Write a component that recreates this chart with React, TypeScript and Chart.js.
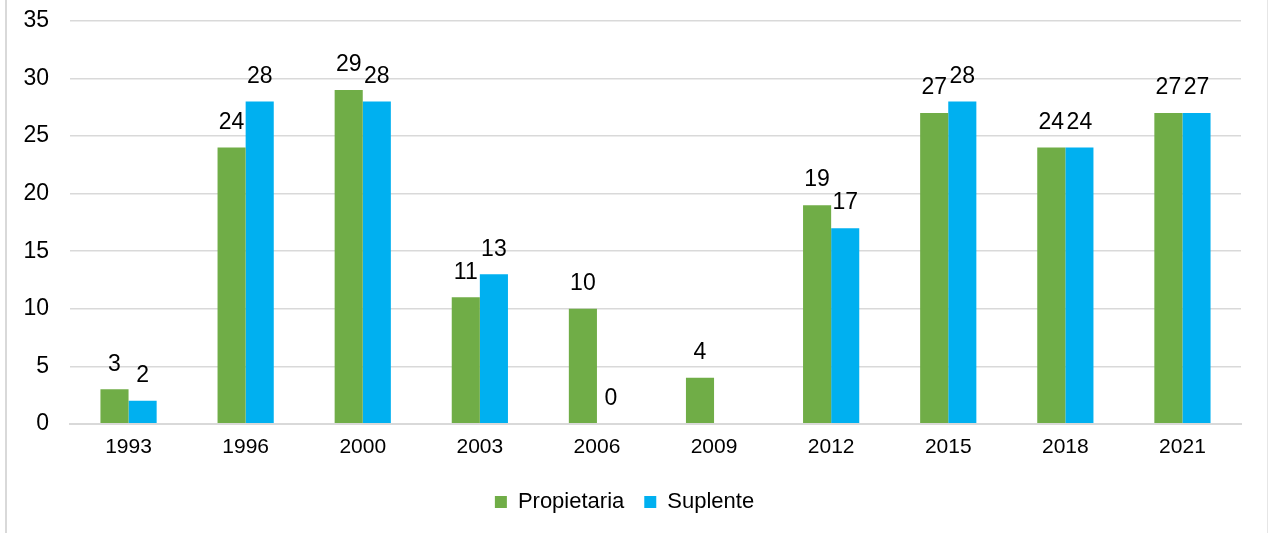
import React, { useEffect, useRef } from "react";
import { Chart, registerables } from "chart.js";

Chart.register(...registerables);

const categories = ["1993", "1996", "2000", "2003", "2006", "2009", "2012", "2015", "2018", "2021"];
const propietaria = [3, 24, 29, 11, 10, 4, 19, 27, 24, 27];
const suplente: (number | null)[] = [2, 28, 28, 13, 0, null, 17, 28, 24, 27];
const seriesNames = ["Propietaria", "Suplente"];
const seriesColors = ["#70AD47", "#00B0F0"];

const FONT = "'Liberation Sans', Arial, sans-serif";

const valueLabels = {
  id: "valueLabels",
  afterDatasetsDraw(chart: any) {
    const ctx = chart.ctx;
    ctx.save();
    ctx.font = `23px ${FONT}`;
    ctx.fillStyle = "#000";
    ctx.textAlign = "center";
    ctx.textBaseline = "middle";
    chart.data.datasets.forEach((ds: any, i: number) => {
      const meta = chart.getDatasetMeta(i);
      meta.data.forEach((bar: any, j: number) => {
        const v = ds.data[j];
        if (v === null || v === undefined) return;
        ctx.fillText(String(v), bar.x, bar.y - 25);
      });
    });
    ctx.restore();
  },
};

export default function App() {
  const ref = useRef<HTMLCanvasElement>(null);
  useEffect(() => {
    document.body.style.margin = "0";
    const chart = new Chart(ref.current!, {
      type: "bar",
      data: {
        labels: categories,
        datasets: [
          { label: seriesNames[0], data: propietaria, backgroundColor: seriesColors[0] },
          { label: seriesNames[1], data: suplente, backgroundColor: seriesColors[1] },
        ],
      },
      options: {
        animation: false,
        responsive: false,
        layout: { padding: { left: 8, right: 28, top: 21, bottom: 10 } },
        datasets: { bar: { categoryPercentage: 0.48, barPercentage: 1 } },
        plugins: {
          legend: {
            position: "bottom",
            labels: {
              boxWidth: 12,
              boxHeight: 12,
              padding: 20,
              color: "#000",
              font: { family: FONT, size: 22 },
            },
          },
          tooltip: { enabled: false },
        },
        scales: {
          x: {
            grid: { display: false, drawTicks: false },
            border: { color: "#d9d9d9", width: 2 },
            ticks: { color: "#000", font: { family: FONT, size: 21 }, padding: 11, maxRotation: 0 },
          },
          y: {
            min: 0,
            max: 35,
            afterFit: (s: any) => { s.width = 62; s.paddingTop = 0; s.paddingBottom = 0; },
            grid: { color: "#d9d9d9", lineWidth: 1.5, drawTicks: false },
            border: { display: false },
            ticks: { stepSize: 5, color: "#000", font: { family: FONT, size: 23 }, padding: 21 },
          },
        },
      },
      plugins: [valueLabels],
    });
    return () => chart.destroy();
  }, []);
  return (
    <div style={{ position: "relative", width: 1269, height: 533 }}>
      <canvas ref={ref} width={1269} height={533} style={{ display: "block" }} />
      <div style={{ position: "absolute", left: 5, top: 0, width: 2, height: 533, background: "#d9d9d9" }} />
      <div style={{ position: "absolute", left: 1267, top: 0, width: 1, height: 533, background: "#e6e6e6" }} />
    </div>
  );
}
